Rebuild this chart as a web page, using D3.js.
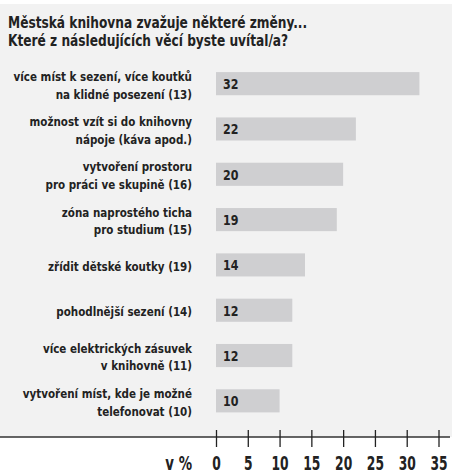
<!DOCTYPE html>
<html><head><meta charset="utf-8">
<script src="https://cdn.jsdelivr.net/npm/d3@7"></script>
<style>
html,body{margin:0;padding:0;background:#fff;}
svg{display:block;}
text{font-family:"DejaVu Sans Condensed","DejaVu Sans",sans-serif;font-weight:bold;fill:#222;}
</style></head>
<body>
<script>
const titleLines = ["Městská knihovna zvažuje některé změny...", "Které z následujících věcí byste uvítal/a?"];
const categories = [
  ["více míst k sezení, více koutků", "na klidné posezení (13)"],
  ["možnost vzít si do knihovny", "nápoje (káva apod.)"],
  ["vytvoření prostoru", "pro práci ve skupině (16)"],
  ["zóna naprostého ticha", "pro studium (15)"],
  ["zřídit dětské koutky (19)"],
  ["pohodlnější sezení (14)"],
  ["více elektrických zásuvek", "v knihovně (11)"],
  ["vytvoření míst, kde je možné", "telefonovat (10)"]
];
const values = [32, 22, 20, 19, 14, 12, 12, 10];
const tickValues = [0, 5, 10, 15, 20, 25, 30, 35];
const axisUnit = "v %";

const W = 452, H = 475;
const svg = d3.select("body").append("svg").attr("width", W).attr("height", H);

svg.append("rect").attr("x", 0).attr("y", 4).attr("width", W).attr("height", 433).attr("fill", "#f2f2f2");

// title
const tg = svg.append("g").attr("transform", "translate(8,0) scale(0.875,1)");
titleLines.forEach((t, i) => tg.append("text").attr("x", 0).attr("y", 28.5 + i * 17.5).style("font-size", "15.5px").text(t));

const x = d3.scaleLinear().domain([0, 35]).range([216, 438.5]);
const y = d3.scaleBand().domain(d3.range(categories.length)).range([61, 423.5]).paddingInner(0.49).paddingOuter(0.245);

const rows = svg.append("g").selectAll("g").data(values).join("g");
rows.append("rect")
  .attr("x", x(0)).attr("y", (d, i) => y(i))
  .attr("width", d => x(d) - x(0)).attr("height", y.bandwidth())
  .attr("fill", "#cfcfd1");
rows.append("text")
  .attr("transform", (d, i) => `translate(${x(0) + 7},${y(i) + y.bandwidth() / 2 + 5.5}) scale(0.88,1)`)
  .style("font-size", "14px").text(d => d);
rows.append("g")
  .attr("transform", "translate(192,0) scale(0.885,1)")
  .each(function(d, i) {
    const lines = categories[i];
    const c = y(i) + y.bandwidth() / 2;
    const lh = 17.8;
    const y0 = c + 6 - (lines.length - 1) * lh / 2;
    lines.forEach((l, j) => d3.select(this).append("text").attr("text-anchor", "end")
      .style("font-size", "13px").attr("x", 0).attr("y", y0 + j * lh).text(l));
  });

const axisY = 437;
svg.append("line").attr("x1", 0).attr("x2", 450).attr("y1", axisY).attr("y2", axisY)
  .attr("stroke", "#333").attr("stroke-width", 1.5);
const axis = d3.axisBottom(x).tickValues(tickValues).tickSize(0).tickPadding(0);
const ag = svg.append("g").attr("transform", `translate(0,${axisY})`).call(axis);
ag.select(".domain").remove();
ag.selectAll(".tick").append("line").attr("y1", -7).attr("y2", 10).attr("stroke", "#222").attr("stroke-width", 1.3);
ag.selectAll(".tick text").attr("y", 33).attr("dy", null).attr("transform", "scale(0.72,1)")
  .style("font-size", "19px").style("font-family", "'DejaVu Sans Condensed',sans-serif").style("font-weight", "bold").attr("fill", "#222");
svg.append("text").attr("transform", `translate(192,${axisY + 33}) scale(0.78,1)`).attr("text-anchor", "end")
  .style("font-size", "19px").text(axisUnit);
</script>
</body></html>
